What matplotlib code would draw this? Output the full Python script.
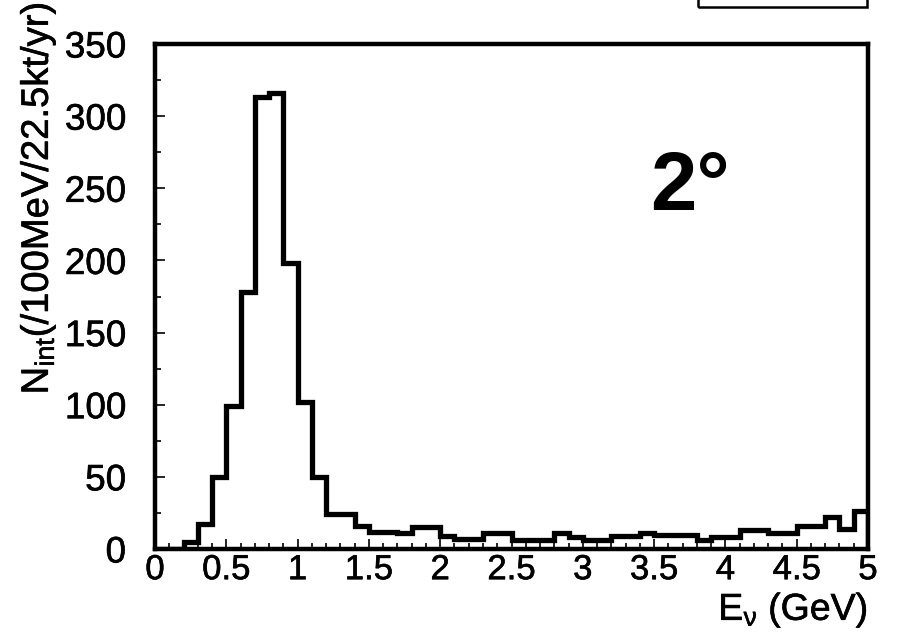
import numpy as np
import matplotlib
matplotlib.use("Agg")
import matplotlib.pyplot as plt
import matplotlib.patheffects as pe
from matplotlib.patches import Rectangle
from matplotlib.ticker import MultipleLocator

plt.rcParams["font.family"] = ["Liberation Sans", "DejaVu Sans"]
plt.rcParams["mathtext.fontset"] = "custom"
plt.rcParams["mathtext.rm"] = "Liberation Sans"
plt.rcParams["mathtext.it"] = "Liberation Sans:italic"
plt.rcParams["mathtext.bf"] = "Liberation Sans:bold"

# Interactions per 100 MeV bin, E_nu from 0 to 5 GeV
bin_edges = np.linspace(0.0, 5.0, 51)
counts = [
    0, 0, 5, 17, 50, 99, 178, 313, 316, 198,
    102, 50, 24, 24, 16, 12, 12, 11, 15, 15,
    9, 7, 7, 11, 11, 6, 6, 6, 11, 8,
    6, 6, 9, 9, 11, 10, 10, 10, 6, 8,
    8, 13, 13, 11, 11, 16, 16, 22, 14, 26,
]
x_ticks = [0, 0.5, 1, 1.5, 2, 2.5, 3, 3.5, 4, 4.5, 5]
x_tick_labels = ["0", "0.5", "1", "1.5", "2", "2.5", "3", "3.5", "4", "4.5", "5"]
y_ticks = [0, 50, 100, 150, 200, 250, 300, 350]

W, H = 898, 632
heavy = [pe.withStroke(linewidth=0.45, foreground="black")]

fig = plt.figure(figsize=(W / 100, H / 100), dpi=100)
ax = fig.add_axes([155 / W, 1 - 549 / H, 713 / W, 505 / H])

ax.stairs(counts, bin_edges, color="black", linewidth=3.8, baseline=0)

ax.set_xlim(0, 5)
ax.set_ylim(0, 350)
ax.set_xticks(x_ticks)
ax.set_xticklabels(x_tick_labels)
ax.set_yticks(y_ticks)
ax.xaxis.set_minor_locator(MultipleLocator(0.1))
ax.yaxis.set_minor_locator(MultipleLocator(25))
ax.tick_params(which="both", direction="in", width=1.2)
ax.tick_params(which="major", length=7)
ax.tick_params(which="minor", length=4)
ax.tick_params(axis="x", pad=3, labelsize=25)
ax.tick_params(axis="y", pad=21, labelsize=26.5)
for lab in ax.get_xticklabels() + ax.get_yticklabels():
    lab.set_path_effects(heavy)
for sp in ax.spines.values():
    sp.set_linewidth(3.2)

ax.text(3.47, 235, "2\u00b0", fontsize=60, fontweight="bold", ha="left", va="baseline")

# axis titles
fig.text(868 / W, 1 - 630 / H, r"$\mathrm{E_{\nu}}$ (GeV)", fontsize=27,
         ha="right", va="bottom", path_effects=heavy)
fig.text(38 / W, 1 - 198 / H, r"$\mathrm{N_{int}}$(/100MeV/22.5kt/yr)", fontsize=27.5,
         rotation=90, ha="center", va="center", path_effects=heavy)

# edge of the box above the frame (cut off at the top)
fig.patches.append(Rectangle((698 / W, 1 - 7 / H), 169 / W, 20 / H, transform=fig.transFigure,
                             fill=False, edgecolor="black", linewidth=1.8))

fig.savefig("out.png", dpi=100)
